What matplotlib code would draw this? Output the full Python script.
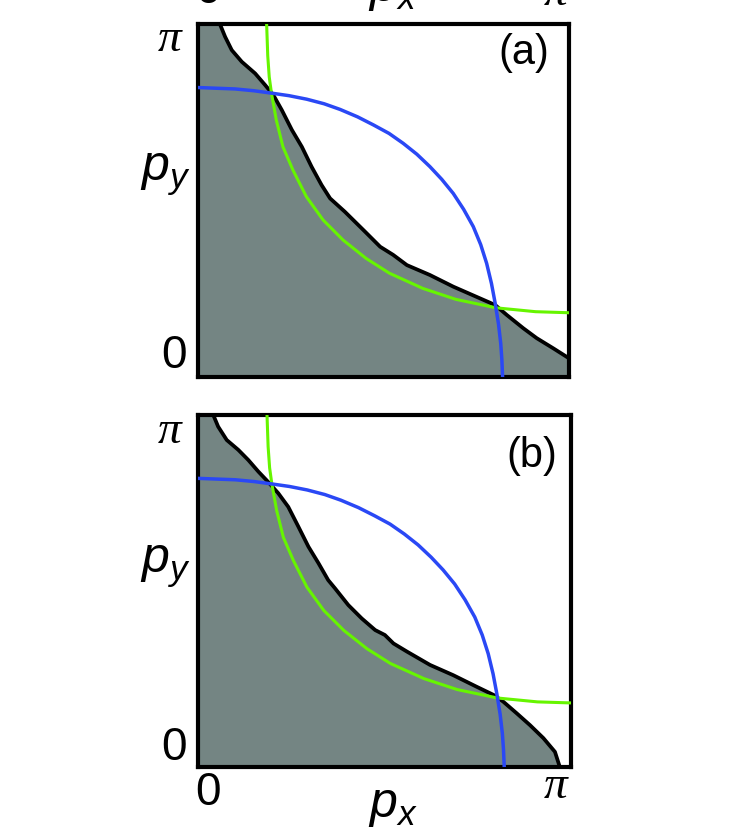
import numpy as np
import matplotlib.pyplot as plt

plt.rcParams['font.family'] = ['Liberation Sans', 'DejaVu Sans']
plt.rcParams['mathtext.fontset'] = 'custom'
plt.rcParams['mathtext.it'] = 'Liberation Sans:italic'
plt.rcParams['mathtext.rm'] = 'Liberation Sans'

W, H = 739, 830

# curves, in units of pi (px/pi, py/pi)
blue_x = [0.0, 0.100, 0.150, 0.199, 0.245, 0.293, 0.340, 0.383, 0.430, 0.473, 0.515, 0.553, 0.590,
          0.625, 0.657, 0.688, 0.716, 0.742, 0.762, 0.778, 0.791, 0.801, 0.810, 0.816, 0.819, 0.821]
blue_y = [0.820, 0.816, 0.811, 0.804, 0.797, 0.787, 0.774, 0.758, 0.737, 0.714, 0.690, 0.662, 0.631,
          0.596, 0.560, 0.520, 0.475, 0.426, 0.375, 0.322, 0.265, 0.209, 0.150, 0.095, 0.050, 0.0]

green_x = [0.185, 0.188, 0.192, 0.198, 0.211, 0.229, 0.256, 0.292, 0.337, 0.391, 0.453, 0.516,
           0.606, 0.695, 0.803, 0.910, 1.0]
green_y = [1.0, 0.910, 0.850, 0.804, 0.728, 0.652, 0.586, 0.511, 0.445, 0.388, 0.336, 0.294,
           0.251, 0.220, 0.196, 0.185, 0.182]

# Fermi surface boundary, panel (a)
fs_a_x = [0.059, 0.073, 0.091, 0.118, 0.154, 0.181, 0.203, 0.226, 0.253, 0.280, 0.306, 0.333, 0.356,
          0.396, 0.450, 0.491, 0.526, 0.563, 0.625, 0.688, 0.751, 0.801, 0.832, 0.877, 0.913, 0.958, 1.0]
fs_a_y = [1.0, 0.964, 0.926, 0.893, 0.860, 0.827, 0.799, 0.756, 0.700, 0.652, 0.596, 0.544, 0.506,
          0.468, 0.412, 0.369, 0.346, 0.317, 0.289, 0.256, 0.227, 0.204, 0.176, 0.138, 0.110, 0.081, 0.053]

# Fermi surface boundary, panel (b)
fs_b_x = [0.041, 0.054, 0.077, 0.108, 0.135, 0.162, 0.188, 0.215, 0.242, 0.269, 0.296, 0.323, 0.349, 0.367,
          0.403, 0.439, 0.475, 0.501, 0.524, 0.560, 0.622, 0.684, 0.747, 0.792, 0.818, 0.854, 0.890, 0.926,
          0.957, 0.970]
fs_b_y = [1.0, 0.967, 0.929, 0.901, 0.872, 0.839, 0.810, 0.778, 0.739, 0.683, 0.626, 0.579, 0.531, 0.508,
          0.460, 0.422, 0.389, 0.375, 0.351, 0.328, 0.290, 0.261, 0.228, 0.205, 0.186, 0.153, 0.119, 0.082,
          0.043, 0.0]

fig = plt.figure(figsize=(W / 100, H / 100), dpi=100)
ax_a = fig.add_axes([198 / W, 1 - 377 / H, 371 / W, 353 / H])
ax_b = fig.add_axes([198 / W, 1 - 767 / H, 373 / W, 352 / H])


def draw_panel(ax, fx, fy, tag, tag_pos):
    fx = np.array(fx) * np.pi
    fy = np.array(fy) * np.pi
    # shaded occupied region
    px = np.concatenate([[0, 0], fx, [fx[-1] if fy[-1] == 0 else np.pi, 0]])
    py = np.concatenate([[0, np.pi], fy, [0, 0]])
    ax.fill(px, py, color='#748583', lw=0, zorder=1)
    ax.plot(fx, fy, color='black', lw=2.7, zorder=2, solid_capstyle='butt', solid_joinstyle='round')
    ax.plot(np.array(green_x) * np.pi, np.array(green_y) * np.pi, color='#66f500', lw=2.2, zorder=3,
            solid_joinstyle='round')
    ax.plot(np.array(blue_x) * np.pi, np.array(blue_y) * np.pi, color='#2a48f5', lw=2.5, zorder=4,
            solid_joinstyle='round')
    ax.set_xlim(0, np.pi)
    ax.set_ylim(0, np.pi)
    ax.set_xticks([])
    ax.set_yticks([])
    for s in ax.spines.values():
        s.set_linewidth(3)
    ax.text(tag_pos[0], tag_pos[1], tag, transform=ax.transAxes, fontsize=30,
            ha='center', va='center')


draw_panel(ax_a, fs_a_x, fs_a_y, '(a)', (0.879, 0.918))
draw_panel(ax_b, fs_b_x, fs_b_y, '(b)', (0.895, 0.884))


def ftext(x, y, s, **kw):
    fig.text(x / W, 1 - y / H, s, ha='center', va='center', **kw)


pi_kw = dict(family='Liberation Serif', style='italic', fontsize=34)
# y axis labels
for off in (0, 392):
    ftext(170, 40 + off, 'π', **pi_kw)
    ftext(174, 356 + off, '0', fontsize=33)
    ftext(165, 175 + off, r'$p_y$', fontsize=36)

# x axis labels (bottom) and the cropped ones at the top
ftext(208, 793, '0', fontsize=33)
ftext(393, 806, r'$p_x$', fontsize=36)
ftext(556, 787, 'π', **pi_kw)
ftext(208, -9, '0', fontsize=33)
ftext(393, -10, r'$p_x$', fontsize=36)
ftext(556, -6, 'π', **pi_kw)

fig.savefig('out.png', dpi=100)
